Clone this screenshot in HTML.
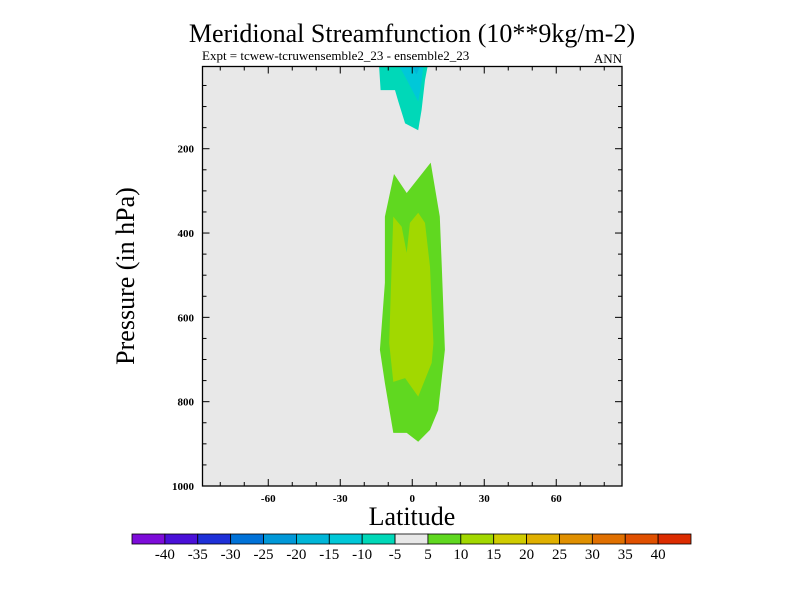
<!DOCTYPE html>
<html><head><meta charset="utf-8">
<style>
html,body{margin:0;padding:0;background:#fff;}
svg{display:block;font-family:"Liberation Serif",serif;}
</style></head>
<body>
<svg id="chart" width="800" height="600" viewBox="0 0 800 600">
<text x="412" y="42" font-size="26" text-anchor="middle">Meridional Streamfunction (10**9kg/m-2)</text>
<text x="202" y="60" font-size="13">Expt = tcwew-tcruwensemble2_23 - ensemble2_23</text>
<text x="622" y="63" font-size="13" text-anchor="end">ANN</text>
<g id="plot"></g>
<text transform="translate(134,276) rotate(-90)" font-size="26" text-anchor="middle">Pressure (in hPa)</text>
<text x="412" y="525" font-size="26" text-anchor="middle">Latitude</text>
<g id="cbar"></g>
</svg>
<script>
const xTicks=[-60,-30,0,30,60];
const yTicks=[200,400,600,800,1000];
const cbarLabels=[-40,-35,-30,-25,-20,-15,-10,-5,5,10,15,20,25,30,35,40];
const cbarColors=["#7d0cd9","#4a10d8","#1e30d8","#0072d8","#0098d8","#00b6d8","#00c8d8","#00d8b8","#e8e8e8","#60d820","#a2d800","#d0cc00","#e0b000","#e09000","#e07000","#e05000","#dc2c00"];
// contour polygons [lat, pressure]
const greenOuter=[[-7.6,260],[-2.3,305],[7.7,233],[11.5,361],[12.3,480],[13.6,677],[10.8,820],[7.4,867],[2.5,895],[-2.3,874],[-7.9,874],[-11.4,756],[-13.5,677],[-11.4,518],[-11.4,361]];
const yellowInner=[[-7.9,361],[-4.4,385],[-2.3,447],[-1.0,376],[2.5,352],[5.3,376],[7.4,480],[8.8,661],[8.1,708],[2.5,788],[-3.0,744],[-7.9,753],[-9.6,661],[-8.6,480]];
const cyanOuter=[[-13.8,5],[-13.2,61],[-7.2,61],[-5.8,88],[-3.0,140],[2.5,156],[3.9,108],[5.3,37],[6.4,5]];
const cyanInner=[[-5.4,5],[-3.0,29],[2.5,88],[3.9,41],[4.6,5]];
const blueSpot=[[-0.25,5],[1.8,24],[3.2,5]];

const NS="http://www.w3.org/2000/svg";
const X0=202.5,X1=622,Y0=66.5,Y1=486;
const latMin=-87.4,latMax=87.4,pMin=5,pMax=1000;
const xs=l=>X0+(l-latMin)/(latMax-latMin)*(X1-X0);
const ys=p=>Y0+(p-pMin)/(pMax-pMin)*(Y1-Y0);
function mk(tag,attrs,parent){const e=document.createElementNS(NS,tag);for(const k in attrs)e.setAttribute(k,attrs[k]);parent.appendChild(e);return e;}
const plot=document.getElementById('plot');
const bg=mk('rect',{x:X0,y:Y0,width:X1-X0,height:Y1-Y0,fill:'#e8e8e8'},plot);


function poly(pts,fill,name){
 const e=mk('polygon',{points:pts.map(q=>xs(q[0]).toFixed(1)+','+ys(q[1]).toFixed(1)).join(' '),fill:fill},plot);
 
 
}
poly(greenOuter,cbarColors[9],'contour-5-10');
poly(yellowInner,cbarColors[10],'contour-10-15');
poly(cyanOuter,cbarColors[7],'contour-neg10-neg5');
poly(cyanInner,cbarColors[6],'contour-neg15-neg10');
poly(blueSpot,cbarColors[5],'contour-neg20-neg15');
// ticks
for(let l=-80;l<=80;l+=10){
 const maj=l%30===0, len=maj?7:4;
 mk('line',{x1:xs(l),x2:xs(l),y1:Y1,y2:Y1-len,stroke:'#000'},plot);
 mk('line',{x1:xs(l),x2:xs(l),y1:Y0,y2:Y0+len,stroke:'#000'},plot);
}
for(let p=50;p<1000;p+=50){
 const maj=p%200===0, len=maj?7:4;
 mk('line',{x1:X0,x2:X0+len,y1:ys(p),y2:ys(p),stroke:'#000'},plot);
 mk('line',{x1:X1,x2:X1-len,y1:ys(p),y2:ys(p),stroke:'#000'},plot);
}
const frame=mk('rect',{x:X0,y:Y0,width:X1-X0,height:Y1-Y0,fill:'none',stroke:'#000','stroke-width':1.3},plot);


xTicks.forEach(v=>{
 const t=mk('text',{x:xs(v),y:502,'font-size':11,'font-weight':'bold','text-anchor':'middle'},plot);
 t.textContent=v;
 
 
});
yTicks.forEach(v=>{
 const t=mk('text',{x:194,y:ys(v)+4,'font-size':11,'font-weight':'bold','text-anchor':'end'},plot);
 t.textContent=v;
 
 
});
// colorbar
const cb=document.getElementById('cbar');
const CX0=132,CX1=691,CY=534,CH=10,bw=(CX1-CX0)/cbarColors.length;
cbarColors.forEach((c,i)=>{
 const r=mk('rect',{x:CX0+i*bw,y:CY,width:bw,height:CH,fill:c,stroke:'#000','stroke-width':0.8},cb);
 
 
});
cbarLabels.forEach((v,i)=>{
 const t=mk('text',{x:CX0+(i+1)*bw,y:559,'font-size':15,'text-anchor':'middle'},cb);
 t.textContent=v;
 
 
});
</script>
</body></html>
